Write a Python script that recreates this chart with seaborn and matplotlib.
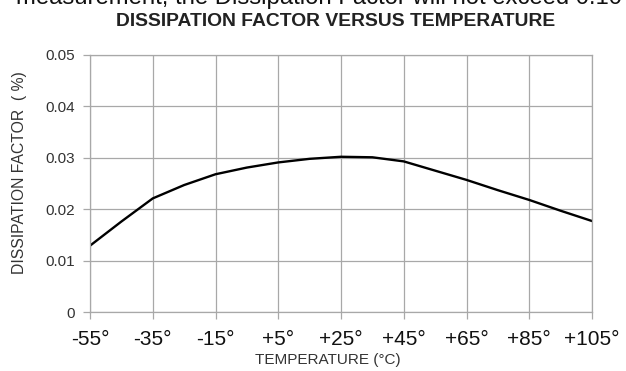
import matplotlib
matplotlib.use("Agg")
import matplotlib.pyplot as plt
import seaborn as sns
import pandas as pd

temperature = [-55, -45, -35, -25, -15, -5, 5, 15, 25, 35, 45, 55, 65, 75, 85, 95, 105]
dissipation = [0.0129, 0.0176, 0.0221, 0.0247, 0.0268, 0.0281, 0.0291, 0.0298, 0.0302,
               0.0301, 0.0293, 0.0275, 0.0257, 0.0237, 0.0218, 0.0197, 0.0177]
x_ticks = [-55, -35, -15, 5, 25, 45, 65, 85, 105]
x_tick_labels = ["-55°", "-35°", "-15°", "+5°", "+25°", "+45°", "+65°", "+85°", "+105°"]
y_ticks = [0, 0.01, 0.02, 0.03, 0.04, 0.05]
y_tick_labels = ["0", "0.01", "0.02", "0.03", "0.04", "0.05"]

sns.set_theme(style="white")
plt.rcParams['font.family'] = ['Liberation Sans', 'DejaVu Sans']

df = pd.DataFrame({"temp": temperature, "df": dissipation})

fig = plt.figure(figsize=(6.26, 3.71), dpi=100)
ax = fig.add_axes([90/626, 1-312/371, (592-90)/626, (312-55)/371])

sns.lineplot(data=df, x="temp", y="df", ax=ax, color="black", linewidth=1.7)

ax.set_xlim(-55, 105)
ax.set_ylim(0, 0.05)
ax.set_xticks(x_ticks)
ax.set_xticklabels(x_tick_labels, fontsize=15, color="#111111")
ax.set_yticks(y_ticks)
ax.set_yticklabels(y_tick_labels, fontsize=11, color="#333333")
ax.grid(True, color="#a8a8a8", linewidth=0.9)
for s in ax.spines.values():
    s.set_color("#a8a8a8")
    s.set_linewidth(0.9)
ax.tick_params(axis="both", which="major", length=5, color="#a8a8a8", width=0.9,
               bottom=True, left=True, direction="out")
ax.tick_params(axis="x", pad=8)
ax.tick_params(axis="y", pad=6)
ax.set_xlabel("TEMPERATURE (°C)", fontsize=11, color="#333333")
ax.xaxis.set_label_coords((328 - 90) / 502, -(353 - 312) / 257)
ax.set_ylabel("DISSIPATION FACTOR  ( %)", fontsize=11.3, color="#333333")
ax.yaxis.set_label_coords(-0.125, (312 - 173) / 257)

fig.text(336/626, 1 - 26/371, "DISSIPATION FACTOR VERSUS TEMPERATURE", ha="center", va="baseline",
         fontsize=13.9, fontweight="bold", color="#222222")
fig.text(319/626, 1 - 4/371, "measurement, the Dissipation Factor will not exceed 0.10", ha="center",
         va="baseline", fontsize=17.2, color="#111111")

fig.savefig("out.png", dpi=100)
